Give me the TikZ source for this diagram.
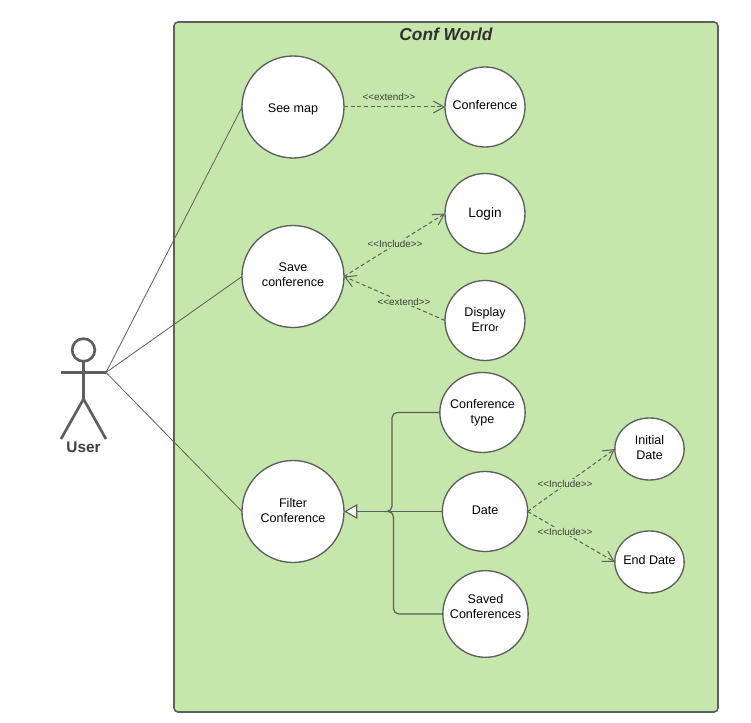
\documentclass[tikz,border=0pt]{standalone}
\usepackage{fontspec}
\setmainfont{Liberation Sans}
\usetikzlibrary{arrows.meta,shapes.geometric}
\definecolor{framegray}{RGB}{94,94,94}
\definecolor{inkgray}{RGB}{60,60,60}
\definecolor{systemgreen}{RGB}{198,231,171}

\begin{document}
\begin{tikzpicture}[
  x=0.75pt, y=-0.75pt,
  usecase/.style={draw=framegray, ellipse, fill=white, line width=1pt, inner sep=0pt,
    outer sep=0pt},
  casetext/.style={font=\fontsize{9.4}{11.3}\selectfont, text=black, align=center, inner sep=0pt},
  big/.style={usecase, minimum width=76.5pt, minimum height=76.5pt},
  small/.style={usecase, minimum width=60pt, minimum height=60pt},
  mid/.style={usecase, minimum width=64pt, minimum height=60pt},
  leaf/.style={usecase, minimum width=52pt, minimum height=46.5pt},
  assoc/.style={draw=framegray, line width=0.6pt},
  dep/.style={-{Straight Barb[length=8pt,width=9pt]}, draw=framegray,
    dash pattern=on 3pt off 2pt, line width=0.75pt},
  gen/.style={-{Triangle[open,fill=white,length=10pt,width=11pt]}, draw=framegray, line width=0.9pt},
  branch/.style={draw=framegray, line width=0.9pt, rounded corners=4pt},
  stereo/.style={font=\fontsize{7.4}{9}\selectfont, text=inkgray, inner sep=1pt},
  actorline/.style={draw=framegray, line width=2pt}
]
\useasboundingbox (0,0) rectangle (751,723);
\node[draw=framegray, fill=systemgreen, line width=1.2pt, rounded corners=3pt, minimum width=408pt,
  minimum height=517.5pt, inner sep=0pt] (confWorld) at (446,367) {};
\node[font=\fontsize{13}{15}\selectfont\bfseries\itshape, text=inkgray!80!black] (title) at (446,34) {Conf World};

% use cases
\node[big, label={[casetext, yshift=-1.5pt]center:See map}] (seeMap) at (293,107) {};
\node[big, label={[casetext, yshift=1.5pt]center:Save\\conference}] (saveConf) at (293,276.5) {};
\node[big, label={[casetext, yshift=1pt]center:Filter\\Conference}] (filterConf) at (293,511.5) {};
\node[small, label={[casetext, yshift=1.5pt]center:Conference}] (conference) at (485,107) {};
\node[small, label={[casetext, font=\fontsize{10.2}{12}\selectfont]center:Login}] (login) at (485,213.5) {};
\node[small, label={[casetext, yshift=0.5pt]center:Display\\Erro{\fontsize{7}{8}\selectfont r}}] (displayError) at (485,320.5) {};
\node[mid, label={[casetext, yshift=-0.5pt]center:Conference\\type}] (confType) at (482.5,412.5) {};
\node[mid, label={[casetext, yshift=1pt]center:Date}] (date) at (485,511.5) {};
\node[mid, minimum height=65pt, label={[casetext, yshift=5.5pt]center:Saved\\Conferences}] (savedConf) at (485.5,614) {};
\node[leaf, label={[casetext, yshift=1pt]center:Initial\\Date}] (initialDate) at (649.5,449) {};
\node[leaf, label={[casetext, yshift=1.5pt]center:End Date}] (endDate) at (649.5,562) {};

% actor
\node[draw=framegray, circle, line width=2pt, fill=white, inner sep=0pt, outer sep=0pt,
  minimum size=17pt] (userHead) at (83.5,350) {};
\coordinate (userHip) at (83.5,399);
\coordinate (userLeft) at (61,372.5);
\coordinate (userHand) at (106,372.5);
\coordinate (userFootL) at (61,439);
\coordinate (userFootR) at (106,439);
\draw[actorline] (userHead.south) -- (userHip);
\draw[actorline] (userLeft) -- (userHand);
\draw[actorline] (userFootL) -- (userHip) -- (userFootR);
\node[font=\fontsize{11.5}{13}\selectfont\bfseries, text=inkgray] (userLabel) at (83.5,447) {User};

\draw[assoc] (userHand) -- (seeMap.west);
\draw[assoc] (userHand) -- (saveConf.west);
\draw[assoc] (userHand) -- (filterConf.west);

% dependencies
\draw[dep] (seeMap.east) -- (conference.west);
\node[stereo] (extendA) at (389,97) {<{}<extend>{}>};
\draw[dep] (saveConf.east) -- (login.west);
\node[stereo, fill=systemgreen] (includeA) at (395,243.5) {<{}<Include>{}>};
\draw[dep] (displayError.west) -- (saveConf.east);
\node[stereo, fill=systemgreen] (extendB) at (404,301.5) {<{}<extend>{}>};
\draw[dep] (date.east) -- (initialDate.west);
\node[stereo, fill=systemgreen] (includeB) at (565,483.5) {<{}<Include>{}>};
\draw[dep] (date.east) -- (endDate.west);
\node[stereo, fill=systemgreen] (includeC) at (565,531.5) {<{}<Include>{}>};

% generalization
\coordinate (joinPt) at (388,511.5);
\draw[branch] (confType.west) -- (392,412.5) -- (392,511.5) -- (joinPt);
\draw[branch] (savedConf.west) -- (393.5,614) -- (393.5,511.5) -- (joinPt);
\draw[gen] (date.west) -- (filterConf.east);
\end{tikzpicture}
\end{document}
